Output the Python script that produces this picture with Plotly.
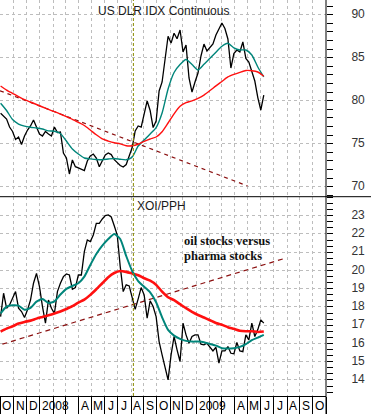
import pandas as pd
import plotly.graph_objects as go

# ---------------- data ----------------
usd_close = [78.54, 78.22, 77.87, 76.94, 76.42, 75.49, 75.78, 74.91, 75.90, 76.59,
             77.06, 77.76, 77.00, 76.13, 75.90, 76.42, 76.13, 75.90, 76.94, 76.30,
             76.36, 73.92, 73.34, 71.48, 73.11, 72.33, 72.18, 72.06, 71.88, 72.99,
             73.57, 73.80, 73.34, 72.33, 73.11, 73.69, 73.92, 73.74, 73.14, 72.76,
             72.47, 72.29, 72.58, 73.57, 74.56, 76.48, 77.06, 76.94, 78.54, 79.97,
             78.86, 76.88, 77.64, 81.13, 82.18, 84.73, 87.50, 86.70, 87.84, 87.20,
             88.22, 85.66, 86.48, 82.64, 81.01, 82.18, 83.22, 85.20, 86.59, 85.78,
             86.24, 86.59, 87.64, 88.34, 89.04, 88.40, 87.18, 83.80, 85.49, 85.90,
             85.66, 86.83, 84.91, 84.50, 83.34, 82.29, 80.37, 78.92, 80.66]
usd_ma_fast = [79.70, 78.86, 77.81, 77.29, 77.04, 76.91, 76.83, 76.71, 76.50, 76.45,
               76.19, 75.31, 74.38, 73.80, 73.34, 73.24, 73.16, 73.13, 73.22, 73.29,
               73.20, 73.13, 73.45, 74.73, 75.43, 76.13, 76.88, 78.57, 81.36, 83.28,
               84.21, 84.79, 84.21, 83.57, 84.23, 84.94, 85.64, 86.33, 86.68, 86.15,
               85.90, 85.90, 85.31, 83.92, 82.76]
usd_ma_slow = [81.71, 81.24, 80.86, 80.48, 80.13, 79.85, 79.56, 79.27, 78.99, 78.72,
               78.44, 78.14, 77.83, 77.48, 77.12, 76.59, 76.04, 75.56, 75.31, 75.11,
               74.98, 74.77, 74.76, 74.94, 75.27, 75.55, 75.78, 76.40, 77.41, 78.48,
               79.36, 79.78, 79.99, 80.27, 80.66, 81.18, 81.73, 82.24, 82.76, 83.06,
               83.30, 83.51, 83.49, 83.34, 82.85]

ratio_close = [17.47, 18.75, 17.93, 18.11, 18.48, 18.84, 17.93, 17.75, 17.42, 17.84,
               18.38, 19.30, 19.84, 19.11, 18.02, 17.11, 18.38, 17.93, 17.65, 18.84,
               19.30, 19.66, 19.81, 19.75, 18.97, 19.06, 19.75, 19.75, 21.03, 21.67,
               21.58, 21.94, 22.58, 22.58, 22.82, 23.00, 23.04, 22.93, 22.45, 21.94,
               20.21, 18.84, 19.21, 19.15, 18.51, 17.87, 18.44, 19.06, 18.66, 17.38,
               18.33, 18.02, 17.47, 16.10, 15.37, 14.64, 14.00, 15.37, 16.38, 15.65,
               15.01, 17.11, 16.47, 16.01, 16.38, 16.47, 16.47, 15.96, 15.92, 16.01,
               15.77, 15.59, 15.79, 14.92, 15.59, 15.59, 15.83, 15.46, 15.43, 16.05,
               15.59, 15.55, 16.47, 16.19, 17.11, 16.38, 16.76, 17.29, 17.11]
ratio_ma_fast = [17.65, 18.02, 18.09, 18.07, 17.85, 17.95, 18.29, 18.44, 18.22, 18.31,
                 18.68, 18.99, 19.15, 19.30, 19.66, 20.30, 20.90, 21.36, 21.72, 22.00,
                 21.72, 20.79, 19.97, 19.42, 19.11, 18.80, 18.26, 17.43, 16.74, 16.43,
                 16.25, 16.14, 16.10, 16.10, 16.07, 15.97, 15.88, 15.74, 15.72, 15.74,
                 15.81, 15.96, 16.18, 16.32, 16.47]
ratio_ma_slow = [16.65, 16.81, 16.94, 17.09, 17.18, 17.25, 17.36, 17.45, 17.54, 17.64,
                 17.75, 17.89, 18.04, 18.24, 18.40, 18.66, 18.97, 19.30, 19.63, 19.86,
                 19.97, 19.92, 19.83, 19.74, 19.57, 19.44, 19.21, 18.84, 18.53, 18.37,
                 18.15, 17.93, 17.73, 17.56, 17.42, 17.27, 17.12, 17.02, 16.89, 16.80,
                 16.70, 16.67, 16.67, 16.63, 16.65]

usd_trend_dates = ["2007-10-01", "2009-05-01"]
usd_trend_vals = [81.16, 70.08]
ratio_trend_dates = ["2007-10-05", "2009-07-29"]
ratio_trend_vals = [15.96, 20.67]
marker_date = "2008-08-07"

usd_ticks = [70, 75, 80, 85, 90]
ratio_ticks = [14, 15, 16, 17, 18, 19, 20, 21, 22, 23]
month_labels = ["O", "N", "D", "2008", "", "", "A", "M", "J", "J", "A", "S",
                "O", "N", "D", "2009", "", "", "A", "M", "J", "J", "A", "S", "O"]

weekly_dates = pd.date_range("2007-10-02", periods=len(usd_close), freq="7D")
ma_dates = pd.date_range("2007-10-02", periods=len(usd_ma_fast), freq="14D")
month_starts = pd.date_range("2007-10-01", "2009-11-02", freq="BMS")

# ---------------- figure ----------------
BLACK = "#000000"
TEAL = "#00857a"
RED = "#ff1010"
TREND = "#8b1010"
GRID = "#bdbdbd"
FONT = "Liberation Sans"

fig = go.Figure()

# top panel
fig.add_trace(go.Scatter(x=usd_trend_dates, y=usd_trend_vals, mode="lines",
                         line=dict(color=TREND, width=1.2, dash="4px,4px"), yaxis="y"))
fig.add_trace(go.Scatter(x=weekly_dates, y=usd_close, mode="lines",
                         line=dict(color=BLACK, width=1.3), yaxis="y"))
fig.add_trace(go.Scatter(x=ma_dates, y=usd_ma_fast, mode="lines",
                         line=dict(color=TEAL, width=1.4, shape="spline", smoothing=0.6), yaxis="y"))
fig.add_trace(go.Scatter(x=ma_dates, y=usd_ma_slow, mode="lines",
                         line=dict(color=RED, width=1.4, shape="spline", smoothing=0.6), yaxis="y"))

# bottom panel
fig.add_trace(go.Scatter(x=ratio_trend_dates, y=ratio_trend_vals, mode="lines",
                         line=dict(color=TREND, width=1.2, dash="5px,4px"), yaxis="y2"))
fig.add_trace(go.Scatter(x=weekly_dates, y=ratio_close, mode="lines",
                         line=dict(color=BLACK, width=1.3), yaxis="y2"))
fig.add_trace(go.Scatter(x=ma_dates, y=ratio_ma_slow, mode="lines",
                         line=dict(color=RED, width=2.6, shape="spline", smoothing=0.6), yaxis="y2"))
fig.add_trace(go.Scatter(x=ma_dates, y=ratio_ma_fast, mode="lines",
                         line=dict(color=TEAL, width=2.0, shape="spline", smoothing=0.6), yaxis="y2"))

PH = 396.0  # plot height in px
split = (PH - 196.7) / PH

yaxis_common = dict(side="right", anchor="x", showline=False, zeroline=False,
                    ticks="outside", ticklen=6, tickcolor="black", tickwidth=1,
                    showgrid=True, gridcolor=GRID, griddash="3px,3px", gridwidth=1,
                    tickfont=dict(family=FONT, size=12, color="#333333"),
                    ticklabelstandoff=16, automargin=False, fixedrange=True)

fig.update_layout(
    width=371, height=414,
    margin=dict(l=0, r=45, t=0, b=18, autoexpand=False),
    paper_bgcolor="white", plot_bgcolor="white",
    showlegend=False, hovermode=False,
    xaxis=dict(type="date", range=["2007-10-01", "2009-11-02"], anchor="y2",
               rangebreaks=[dict(bounds=["sat", "mon"])],
               tickmode="array", tickvals=month_starts, ticktext=[""] * len(month_starts),
               ticks="outside", ticklen=18, tickcolor="black", tickwidth=1,
               showgrid=True, gridcolor=GRID, griddash="3px,3px", gridwidth=1,
               showline=True, linecolor="black", linewidth=1, zeroline=False,
               automargin=False, fixedrange=True),
    yaxis=dict(domain=[split, 1], range=[68.84, 91.71], tickmode="array", tickvals=usd_ticks,
               minor=dict(tick0=0, dtick=1, ticks="outside", ticklen=6, tickcolor="black",
                          showgrid=False),
               ticklabelshift=-1, **yaxis_common),
    yaxis2=dict(domain=[0, split], range=[13.12, 24.04], tickmode="array", tickvals=ratio_ticks,
                minor=dict(tick0=14, dtick=1 / 3, ticks="outside", ticklen=6, tickcolor="black",
                           showgrid=False),
                ticklabelshift=-1, **yaxis_common),
)

shapes = [
    # separator between panels
    dict(type="line", xref="paper", yref="paper", x0=0, x1=371 / 326, y0=split, y1=split,
         line=dict(color="black", width=1)),
    # right axis line (full height)
    dict(type="line", xref="paper", yref="paper", x0=1, x1=1, y0=-18 / PH, y1=1,
         line=dict(color="black", width=1)),
    # olive marker line
    dict(type="line", xref="x", yref="paper", x0=marker_date, x1=marker_date, y0=0, y1=1,
         line=dict(color="#8a8a00", width=1, dash="3px,2px")),
]
fig.update_layout(shapes=shapes)

annotations = [
    dict(text="US DLR IDX Continuous", xref="paper", yref="paper", x=163 / 326, y=1 - 10.7 / PH,
         showarrow=False, xanchor="center", yanchor="middle",
         font=dict(family=FONT, size=12, color="#1a1a1a")),
    dict(text="XOI/PPH", xref="paper", yref="paper", x=161.7 / 326, y=1 - 205.7 / PH,
         showarrow=False, xanchor="center", yanchor="middle",
         font=dict(family=FONT, size=12, color="#1a1a1a")),
    dict(text="<b>oil stocks versus</b>", xref="paper", yref="paper", x=182 / 326, y=1 - 240.7 / PH,
         showarrow=False, xanchor="left", yanchor="middle",
         font=dict(family="Liberation Serif", size=12.5, color="#111111")),
    dict(text="<b>pharma stocks</b>", xref="paper", yref="paper", x=182 / 326, y=1 - 256.3 / PH,
         showarrow=False, xanchor="left", yanchor="middle",
         font=dict(family="Liberation Serif", size=12.5, color="#111111")),
]

# month letters centered in each month cell
for i, lab in enumerate(month_labels):
    if not lab:
        continue
    start, end = month_starts[i], month_starts[i + 1]
    bdays = pd.bdate_range(start, end - pd.Timedelta(days=1))
    n = len(bdays)
    if lab.isdigit():
        annotations.append(dict(text=lab, xref="x", yref="paper", x=start, y=-10 / PH,
                                xanchor="left", yanchor="middle", xshift=1, showarrow=False,
                                font=dict(family=FONT, size=12, color="black")))
        continue
    mid = bdays[n // 2] if n % 2 == 0 else bdays[n // 2] + pd.Timedelta(hours=12)
    annotations.append(dict(text=lab, xref="x", yref="paper", x=mid, y=-10 / PH,
                            xanchor="center", yanchor="middle", showarrow=False,
                            font=dict(family=FONT, size=12, color="black")))

fig.update_layout(annotations=annotations)

fig.write_html("out.html", config={"displayModeBar": False, "staticPlot": True},
               post_script="document.body.style.margin='0px';")
